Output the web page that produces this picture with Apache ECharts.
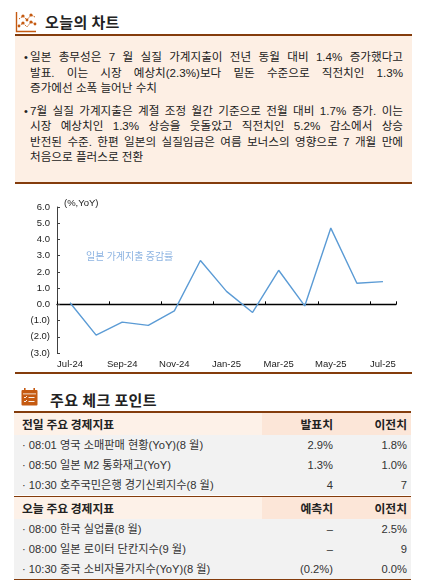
<!DOCTYPE html>
<html><head><meta charset="utf-8">
<script src="https://cdn.jsdelivr.net/npm/echarts@6/dist/echarts.min.js"></script>
<style>
html,body{margin:0;padding:0;background:#fff;}
body{width:428px;height:588px;position:relative;overflow:hidden;font-family:"Liberation Sans","Noto Sans CJK KR",sans-serif;color:#222;}
.abs{position:absolute;}
.title{font-family:"Noto Sans CJK KR",sans-serif;font-weight:bold;font-size:15px;color:#222;line-height:20px;letter-spacing:0.4px;}
.rule{background:#843C0C;height:1.5px;left:15px;width:397px;}
.ln{left:30px;width:373px;font-size:11.6px;line-height:16px;height:16px;text-align:justify;text-align-last:justify;white-space:nowrap;}
.ln.last{text-align-last:left;}
.bul{left:24px;font-size:11px;line-height:16px;}
.row{left:14px;width:397px;font-size:11.2px;}
.row span{position:absolute;top:0;white-space:nowrap;}
.hdr{font-weight:bold;font-family:"Noto Sans CJK KR",sans-serif;font-size:11.8px;}
</style></head>
<body>
<!-- header 1 -->
<svg class="abs" style="left:15px;top:11px" width="22" height="22" viewBox="0 0 22 22">
 <path d="M1.5 1 V20.5 H21" stroke="#C55A11" stroke-width="1.4" fill="none"/>
 <polyline points="4,8 8,5 12,9 16,4 20,6" stroke="#C55A11" stroke-width="1" stroke-dasharray="1.5 1" fill="none"/>
 <polyline points="4,15 8,12 12,16 16,11 20,13" stroke="#C55A11" stroke-width="1" stroke-dasharray="1.5 1" fill="none"/>
 <g fill="#C55A11"><circle cx="8" cy="5" r="1.6"/><circle cx="16" cy="4" r="1.6"/><circle cx="12" cy="9" r="1.4"/><circle cx="8" cy="12" r="1.6"/><circle cx="16" cy="11" r="1.6"/><circle cx="20" cy="13" r="1.4"/><circle cx="4" cy="15" r="1.4"/></g>
</svg>
<div class="abs title" style="left:45px;top:12px">오늘의 차트</div>
<div class="abs rule" style="top:34px"></div>
<div class="abs" style="left:15px;top:35.5px;width:397px;height:146.5px;background:#FDEFE4"></div>
<div class="abs rule" style="top:182px"></div>
<div id="notes"></div>

<div id="chart" class="abs" style="left:0;top:190px;width:428px;height:182px"></div>
<div class="abs rule" style="top:372px"></div>

<!-- header 2 -->
<svg class="abs" style="left:21px;top:388px" width="17" height="18" viewBox="0 0 17 18">
 <rect x="0.5" y="2" width="16" height="15.5" rx="1" fill="#C55A11"/>
 <rect x="3" y="0" width="1.6" height="4" fill="#C55A11"/><rect x="12.4" y="0" width="1.6" height="4" fill="#C55A11"/>
 <rect x="2" y="5.5" width="13" height="0.8" fill="#fff"/>
 <path d="M3 9 l1 1 l2 -2 M3 13 l1 1 l2 -2" stroke="#fff" stroke-width="0.9" fill="none"/>
 <rect x="7.5" y="9" width="6" height="0.9" fill="#fff"/><rect x="7.5" y="13" width="6" height="0.9" fill="#fff"/>
</svg>
<div class="abs title" style="left:50px;top:390px">주요 체크 포인트</div>
<div id="table"></div>

<script>
// ---- text notes ----
const bullet1 = ['일본 총무성은 7 월 실질 가계지출이 전년 동월 대비 1.4% 증가했다고','발표. 이는 시장 예상치(2.3%)보다 밑돈 수준으로 직전치인 1.3%','증가에선 소폭 늘어난 수치'];
const bullet2 = ['7월 실질 가계지출은 계절 조정 월간 기준으로 전월 대비 1.7% 증가. 이는','시장 예상치인 1.3% 상승을 웃돌았고 직전치인 5.2% 감소에서 상승','반전된 수준. 한편 일본의 실질임금은 여름 보너스의 영향으로 7 개월 만에','처음으로 플러스로 전환'];

// ---- chart data ----
const months = ['Jul-24','Aug-24','Sep-24','Oct-24','Nov-24','Dec-24','Jan-25','Feb-25','Mar-25','Apr-25','May-25','Jun-25','Jul-25'];
const spending = [0.1,-1.9,-1.1,-1.3,-0.4,2.7,0.8,-0.5,2.1,-0.1,4.7,1.3,1.4];
const seriesName = '일본 가계지출 증감률';
const unitLabel = '(%,YoY)';

// ---- table data ----
const prevHeader = ['전일 주요 경제지표','발표치','이전치'];
const prevNames = ['· 08:01 영국 소매판매 현황(YoY)(8 월)','· 08:50 일본 M2 통화재고(YoY)','· 10:30 호주국민은행 경기신뢰지수(8 월)'];
const prevActual = ['2.9%','1.3%','4'];
const prevPrior = ['1.8%','1.0%','7'];
const todayHeader = ['오늘 주요 경제지표','예측치','이전치'];
const todayNames = ['· 08:00 한국 실업률(8 월)','· 08:00 일본 로이터 단칸지수(9 월)','· 10:30 중국 소비자물가지수(YoY)(8 월)'];
const todayForecast = ['–','–','(0.2%)'];
const todayPrior = ['2.5%','9','0.0%'];

// notes
(function(){
  const host = document.getElementById('notes');
  let h = '';
  function add(lines, top0){
    h += '<div class="abs bul" style="top:'+(top0-8)+'px">•</div>';
    lines.forEach((t,i)=>{
      const top = top0 - 8 + i*15.6;
      h += '<div class="abs ln'+(i===lines.length-1?' last':'')+'" style="top:'+top+'px">'+t+'</div>';
    });
  }
  add(bullet1, 57);
  add(bullet2, 110.5);
  host.innerHTML = h;
})();

// table
(function(){
  const host = document.getElementById('table');
  let h = '';
  h += '<div class="abs" style="left:14px;top:411px;width:397px;height:1.5px;background:#843C0C"></div>';
  function block(header, names, c2, c3, top){
    h += '<div class="abs" style="left:14px;top:'+top+'px;width:248px;height:22px;background:#FDF1E8"></div>';
    h += '<div class="abs" style="left:262px;top:'+top+'px;width:149px;height:22px;background:#FCE6D8"></div>';
    h += '<div class="abs row hdr" style="top:'+top+'px;height:22px;line-height:22px"><span style="left:8px">'+header[0]+'</span><span style="right:78px">'+header[1]+'</span><span style="right:4px">'+header[2]+'</span></div>';
    const rtop = top+22;
    h += '<div class="abs" style="left:14px;top:'+rtop+'px;width:397px;height:60px;background:#F2F2F2"></div>';
    names.forEach((n,i)=>{
      const t = rtop + i*20;
      h += '<div class="abs row" style="top:'+t+'px;height:20px;line-height:20px;color:#333"><span style="left:8px">'+n+'</span><span style="right:78px">'+c2[i]+'</span><span style="right:4px">'+c3[i]+'</span></div>';
    });
  }
  block(prevHeader, prevNames, prevActual, prevPrior, 412.5);
  h += '<div class="abs" style="left:14px;top:495.5px;width:397px;height:1.5px;background:#843C0C"></div>';
  block(todayHeader, todayNames, todayForecast, todayPrior, 497);
  h += '<div class="abs" style="left:14px;top:578.5px;width:397px;height:1.5px;background:#843C0C"></div>';
  host.innerHTML = h;
})();

// chart
const chart = echarts.init(document.getElementById('chart'), null, {renderer:'canvas'});
chart.setOption({
  animation:false,
  textStyle:{fontFamily:'"Liberation Sans","Noto Sans CJK KR",sans-serif'},
  grid:{left:57,right:32,top:17,bottom:19,containLabel:false,outerBoundsMode:'none'},
  xAxis:[{
    type:'category', data:months, boundaryGap:true, position:'bottom',
    axisLine:{show:false,onZero:false},
    axisTick:{show:false},
    axisLabel:{interval:1,margin:7,fontSize:9.5,color:'#222'}
  },{
    type:'category', data:months, boundaryGap:true, position:'bottom',
    axisLine:{show:true,onZero:true,lineStyle:{color:'#000',width:1.3}},
    axisTick:{show:true,inside:true,length:3,interval:1,lineStyle:{color:'#000'}},
    axisLabel:{show:false}
  }],
  yAxis:{
    type:'value', min:-3, max:6, interval:1,
    splitLine:{show:false},
    axisLine:{show:true,lineStyle:{color:'#404040',width:1}},
    axisTick:{show:true,inside:true,length:3,lineStyle:{color:'#404040'}},
    axisLabel:{margin:7,fontSize:9.5,color:'#222',formatter:v=> v<0 ? '('+Math.abs(v).toFixed(1)+')' : v.toFixed(1)}
  },
  graphic:[
    {type:'text',left:64,top:8,style:{text:unitLabel,fontSize:9.5,fill:'#222',fontFamily:'"Liberation Sans",sans-serif'}},
    {type:'text',left:86,top:61,style:{text:seriesName,fontSize:10,fill:'#8DB4E2',fontFamily:'"Noto Sans CJK KR",sans-serif'}}
  ],
  series:[{type:'line',name:seriesName,xAxisIndex:0,yAxisIndex:0,data:spending,showSymbol:false,lineStyle:{color:'#5B9BD5',width:1.4},itemStyle:{color:'#5B9BD5'}}]
});
</script>
</body></html>
